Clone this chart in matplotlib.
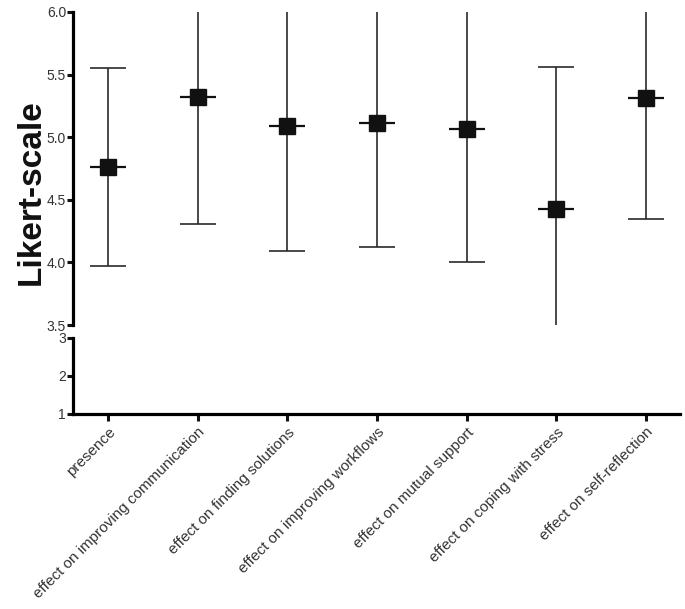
import matplotlib
matplotlib.use('Agg')
import matplotlib.pyplot as plt
import numpy as np

plt.rcParams['font.family'] = ['Liberation Sans', 'DejaVu Sans']

categories = ['presence', 'effect on improving communication', 'effect on finding solutions',
              'effect on improving workflows', 'effect on mutual support',
              'effect on coping with stress', 'effect on self-reflection']
means = [4.76, 5.32, 5.09, 5.11, 5.065, 4.43, 5.31]
sds = [0.79, 1.01, 1.00, 0.99, 1.065, 1.13, 0.96]

upper_ticks = [3.5, 4.0, 4.5, 5.0, 5.5, 6.0]
lower_ticks = [1, 2, 3]

x = np.arange(len(categories))

fig = plt.figure(figsize=(6.85, 6.09), dpi=100)
ax_top = fig.add_axes([0.1066, 0.4663, 0.8864, 0.5140])
ax_bot = fig.add_axes([0.1066, 0.3202, 0.8864, 0.1248])

ink = '#111111'
tick_col = '#333333'

ax_top.errorbar(x, means, yerr=sds, fmt='none', ecolor='#2a2a2a', elinewidth=1.2,
                capsize=13, capthick=1.2)
ax_top.plot(x, means, linestyle='none', marker='_', markersize=26, markeredgewidth=1.6,
            color=ink)
ax_top.plot(x, means, linestyle='none', marker='s', markersize=11, color=ink)

for ax in (ax_top, ax_bot):
    ax.set_xlim(-0.39, 6.38)
    for s in ('top', 'right'):
        ax.spines[s].set_visible(False)
    ax.spines['left'].set_linewidth(2.3)
    ax.spines['bottom'].set_linewidth(2.3)
    ax.tick_params(axis='both', direction='out', length=4, width=2.2, color=ink,
                   labelsize=10, labelcolor=tick_col, pad=1)

ax_top.set_ylim(3.5, 6.0)
ax_top.set_yticks(upper_ticks)
ax_top.set_yticklabels([f'{t:.1f}' for t in upper_ticks])
ax_top.spines['bottom'].set_visible(False)
ax_top.set_xticks([])

ax_bot.set_ylim(1, 3)
ax_bot.set_yticks(lower_ticks)
ax_bot.set_yticklabels([str(t) for t in lower_ticks])
ax_bot.set_xticks(x)
ax_bot.set_xticklabels(categories, rotation=45, ha='right', rotation_mode='anchor',
                       fontsize=11)
ax_bot.tick_params(axis='x', length=5, pad=3)

fig.text(0.045, 0.685, 'Likert-scale', rotation=90, fontsize=24, fontweight='bold',
         ha='center', va='center', color=ink)

fig.savefig('out.png', dpi=100)
